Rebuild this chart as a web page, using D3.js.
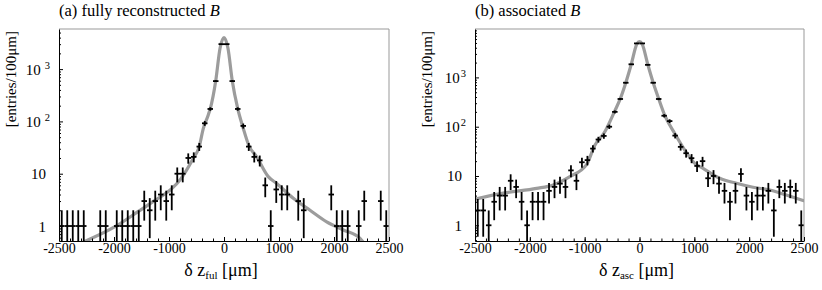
<!DOCTYPE html>
<html>
<head>
<meta charset="utf-8">
<script src="https://cdn.jsdelivr.net/npm/d3@7"></script>
<style>
  body { margin: 0; background: #fff; }
  text { font-family: "Liberation Serif", "Times New Roman", serif; fill: #000; }
</style>
</head>
<body>
<svg id="chart" width="822" height="290"></svg>
<script>
// histogram range: 60 bins of 100 um
var binRange = [-3000, 3000];
var nBins = 60;

// (a) fully reconstructed B : entries per bin, 0 = empty bin
var countsFul = [
  1, 1, 1, 1, 1, 0, 0, 1, 1, 0,
  1, 1, 1, 1, 1, 3, 2, 3, 4, 3,
  4, 10, 10, 20, 21, 33, 92, 173, 590, 3000,
  3000, 590, 173, 82, 33, 21, 18, 6, 1, 5,
  4, 4, 0, 3, 2, 0, 0, 0, 0, 4,
  1, 1, 1, 0, 1, 3, 0, 0, 3, 1
];
// fit curve
var fitFulX = [-2545, -1982, -1558, -1254, -950, -800, -558, -450, -377, -286, -250, -150, -72, 0,
               72, 150, 250, 350, 450, 594, 805, 958, 1260, 1564, 1867, 2170, 2473, 2527];
var fitFulY = [0.5, 0.97, 1.9, 3.1, 5.2, 7.6, 19.7, 33, 73, 133, 175, 600, 2500, 4000,
               2500, 600, 175, 74, 35, 21, 8.8, 6.5, 3.4, 2.0, 1.2, 0.84, 0.58, 0.5];

// (b) associated B
var countsAsc = [
  2, 2, 1, 3, 4, 4, 8, 6, 3, 1,
  3, 3, 3, 5, 6, 7, 6, 13, 8, 19,
  21, 36, 55, 65, 100, 200, 365, 780, 1845, 4900,
  4900, 1800, 780, 365, 167, 130, 66, 39, 29, 23,
  16, 20, 9, 10, 7, 5, 3, 5, 11, 4,
  3, 4, 4, 5, 2, 6, 5, 6, 5, 1
];
var fitAscX = [-3000, -2485, -1877, -1574, -1270, -966, -814, -632, -450, -350, -250, -150, -50, 0,
               50, 150, 250, 350, 461, 643, 826, 1008, 1159, 1463, 1768, 2070, 2374, 2678, 3000];
var fitAscY = [3.4, 4.5, 5.6, 6.6, 9.7, 17, 42, 79, 210, 370, 780, 1850, 4700, 5300,
               4700, 1850, 780, 370, 170, 73, 33.6, 18, 14.3, 9.0, 7.1, 5.9, 5.2, 4.1, 3.15];

// x ticks and the labels printed under them
var xTicks = [-3000, -2000, -1000, 0, 1000, 2000, 3000];
var xTickLabels = ["-2500", "-2000", "-1000", "0", "1000", "2000", "2500"];
var yTicks = [1, 10, 100, 1000];

var svg = d3.select("#chart");
var top_ = 29, bottom_ = 241;

function drawPanel(p) {
  var g = svg.append("g");

  var x = d3.scaleLinear().domain(binRange).range([p.x0, p.x1]);
  var y = d3.scaleLog().domain(p.yDomain).range([bottom_, top_]);
  var bin = d3.scaleLinear().domain([0, nBins]).range(binRange);

  // clip to the frame
  g.append("clipPath").attr("id", p.id + "clip")
    .append("rect")
    .attr("x", p.x0).attr("y", top_)
    .attr("width", p.x1 - p.x0).attr("height", bottom_ - top_);

  var plot = g.append("g").attr("clip-path", "url(#" + p.id + "clip)");

  // fit curve
  var pts = p.fitX.map(function (d, i) { return [d, p.fitY[i]]; });
  var line = d3.line()
    .x(function (d) { return x(d[0]); })
    .y(function (d) { return y(d[1]); })
    .curve(d3.curveMonotoneX);
  plot.append("path")
    .attr("d", line(pts))
    .attr("fill", "none")
    .attr("stroke", "#9c9c9c")
    .attr("stroke-width", 3.2)
    .attr("stroke-linecap", "round");

  // data crosses
  var data = [];
  p.counts.forEach(function (c, i) {
    if (c > 0) data.push({ lo: bin(i), hi: bin(i + 1), n: c });
  });
  var cross = plot.selectAll(".pt").data(data).join("g").attr("class", "pt");
  cross.append("line")
    .attr("x1", function (d) { return x((d.lo + d.hi) / 2); })
    .attr("x2", function (d) { return x((d.lo + d.hi) / 2); })
    .attr("y1", function (d) { return y(d.n + Math.sqrt(d.n)); })
    .attr("y2", function (d) {
      var v = d.n - Math.sqrt(d.n);
      return v > p.yDomain[0] ? y(v) : bottom_ + 2;
    })
    .attr("stroke", "#000").attr("stroke-width", 1.8);
  cross.append("line")
    .attr("x1", function (d) { return x(d.lo); })
    .attr("x2", function (d) { return x(d.hi); })
    .attr("y1", function (d) { return y(d.n); })
    .attr("y2", function (d) { return y(d.n); })
    .attr("stroke", "#000").attr("stroke-width", 1.8);

  // frame: grey top and right
  g.append("path")
    .attr("d", "M" + p.x0 + "," + top_ + "H" + p.x1 + "V" + bottom_)
    .attr("fill", "none").attr("stroke", "#999").attr("stroke-width", 1);

  // x axis
  var minorX = d3.range(0, 31).map(function (i) { return bin(2 * i); });
  g.append("g")
    .attr("transform", "translate(0," + bottom_ + ")")
    .call(d3.axisBottom(x).tickValues(minorX).tickSize(-2.5).tickFormat(""))
    .call(function (a) { a.select(".domain").remove(); });
  var xa = g.append("g")
    .attr("transform", "translate(0," + bottom_ + ")")
    .call(d3.axisBottom(x).tickValues(xTicks).tickSize(-4).tickSizeOuter(0)
      .tickPadding(2).tickFormat(function (d, i) { return xTickLabels[i]; }));
  xa.select(".domain").attr("stroke", "#000");
  xa.selectAll(".tick text").attr("font-size", "14px")
    .style("font-family", "'Liberation Serif', 'Times New Roman', serif");

  // y axis
  var minorY = [];
  [0.1, 1, 10, 100, 1000].forEach(function (dec) {
    for (var k = 2; k <= 9; k++) {
      var v = dec * k;
      if (v > p.yDomain[0] && v < p.yDomain[1]) minorY.push(v);
    }
  });
  g.append("g")
    .attr("transform", "translate(" + p.x0 + ",0)")
    .call(d3.axisLeft(y).tickValues(minorY).tickSize(-2).tickFormat(""))
    .call(function (a) { a.select(".domain").remove(); });
  var ya = g.append("g")
    .attr("transform", "translate(" + p.x0 + ",0)")
    .call(d3.axisLeft(y).tickValues(yTicks).tickSize(-4).tickSizeOuter(0).tickPadding(0));
  ya.select(".domain").attr("stroke", "#000");
  ya.selectAll(".tick text").each(function (d) {
    var t = d3.select(this).text(null)
      .attr("font-size", "15px")
      .attr("dy", null)
      .attr("y", 5)
      .style("font-family", "'Liberation Serif', 'Times New Roman', serif");
    var e = Math.round(Math.log10(d));
    if (e < 2) {
      t.attr("x", -13).text(String(d));
    } else {
      t.attr("x", -9);
      t.append("tspan").text("10");
      t.append("tspan").attr("dx", p.supGap).attr("dy", -6)
        .attr("font-size", "10.5px").text(String(e));
    }
  });

  // titles
  var title = g.append("text")
    .attr("x", p.x0).attr("y", 16)
    .attr("font-size", "16.5px");
  title.append("tspan").text(p.title + " ");
  title.append("tspan").attr("font-style", "italic").text("B");

  g.append("text")
    .attr("transform", "translate(" + (p.x0 - 43) + "," + 31 + ") rotate(-90)")
    .attr("text-anchor", "end")
    .attr("font-size", "15px")
    .text("[entries/100\u03bcm]");

  var xt = g.append("text")
    .attr("x", (p.x0 + p.x1) / 2 - 3).attr("y", 276)
    .attr("text-anchor", "middle")
    .attr("font-size", "18px");
  xt.append("tspan").text("\u03b4 z");
  xt.append("tspan").attr("dy", 3).attr("font-size", "11px").text(p.sub);
  xt.append("tspan").attr("dy", -3).text(" [\u03bcm]");
}

drawPanel({ id: "ful", x0: 59, x1: 389, yDomain: [0.517, 5848], counts: countsFul,
  fitX: fitFulX, fitY: fitFulY, title: "(a) fully reconstructed", sub: "ful", supGap: 4 });
drawPanel({ id: "asc", x0: 475, x1: 804, yDomain: [0.48, 9600], counts: countsAsc,
  fitX: fitAscX, fitY: fitAscY, title: "(b) associated", sub: "asc", supGap: 1 });
</script>
</body>
</html>
